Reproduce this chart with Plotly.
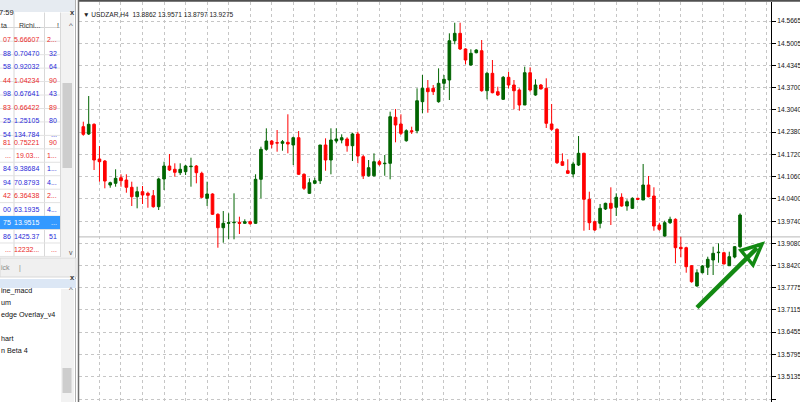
import plotly.graph_objects as go

W, H = 800, 402

# ---------------- data (USDZAR, H4) ----------------
opens = [14.2537, 14.2321, 14.2608, 14.1581, 14.1521, 14.0811, 14.0861, 14.1027, 14.0959, 14.0743,
         14.0465, 14.0613, 14.0565, 14.0494, 14.0169, 14.0989, 14.1373, 14.1276, 14.1175, 14.1205,
         14.1353, 14.1373, 14.1157, 14.0417, 14.0545, 13.9944, 13.9547, 13.9677, 13.9695, 13.9707,
         13.9677, 13.9725, 13.9677, 14.0980, 14.1868, 14.2113, 14.2063, 14.2045, 14.2075, 14.1995,
         14.2211, 14.1128, 14.0565, 14.0861, 14.0938, 14.1995, 14.1551, 14.2113, 14.2143, 14.2173,
         14.1974, 14.2321, 14.1649, 14.1086, 14.1086, 14.1501, 14.1441, 14.1453, 14.2815, 14.2617,
         14.2122, 14.2418, 14.2418, 14.3277, 14.3673, 14.3673, 14.3277, 14.3821, 14.3919, 14.5082,
         14.5301, 14.4837, 14.4363, 14.4727, 14.4786, 14.3602, 14.4117, 14.3573, 14.3348, 14.3999,
         14.3771, 14.3623, 14.3179, 14.4135, 14.3475, 14.3771, 14.3673, 14.2617, 14.2460, 14.1501,
         14.1234, 14.1137, 14.1403, 14.1749, 14.0388, 13.9725, 13.9677, 14.0101, 14.0269, 14.0151,
         14.0447, 14.0189, 14.0121, 14.0417, 14.0367, 14.0811, 14.0485, 13.9627, 13.9301, 13.9695,
         13.9796, 13.8967, 13.8955, 13.8422, 13.7821, 13.8215, 13.8375, 13.8591, 13.8807, 13.8807,
         13.8422, 13.8680, 13.8985]
highs = [14.2685, 14.3445, 14.2637, 14.1965, 14.1551, 14.0909, 14.1276, 14.1128, 14.1128, 14.0909,
         14.0761, 14.0781, 14.0613, 14.0663, 14.1027, 14.1501, 14.1729, 14.1453, 14.1453, 14.1403,
         14.1619, 14.1403, 14.1205, 14.0909, 14.0565, 13.9973, 14.0041, 13.9973, 14.0565, 13.9873,
         13.9796, 13.9754, 14.1128, 14.1945, 14.2489, 14.2143, 14.2439, 14.2143, 14.2904, 14.2241,
         14.2409, 14.1157, 14.1009, 14.1027, 14.1995, 14.2193, 14.2489, 14.2489, 14.2312, 14.2223,
         14.2359, 14.2389, 14.1699, 14.1551, 14.1749, 14.1551, 14.1699, 14.2981, 14.3061, 14.2904,
         14.2460, 14.2537, 14.3673, 14.4067, 14.3919, 14.3771, 14.4265, 14.4067, 14.5301, 14.5615,
         14.5615, 14.4857, 14.4828, 14.4828, 14.5103, 14.4165, 14.4511, 14.3721, 14.4037, 14.4165,
         14.3919, 14.3673, 14.4313, 14.4295, 14.3940, 14.3801, 14.3969, 14.3209, 14.2489, 14.1749,
         14.1572, 14.1501, 14.2261, 14.1767, 14.0613, 13.9754, 14.0249, 14.0287, 14.0743, 14.0565,
         14.0565, 14.0388, 14.0447, 14.0435, 14.1433, 14.1077, 14.0743, 13.9695, 13.9754, 13.9873,
         13.9825, 13.9281, 13.8985, 13.8443, 13.8316, 13.8443, 13.8689, 13.8985, 13.9085, 13.8837,
         13.8837, 13.9005, 13.9973]
lows = [14.2270, 14.2291, 14.1255, 14.0909, 14.0713, 14.0731, 14.0761, 14.0761, 14.0583, 14.0189,
        14.0121, 14.0249, 14.0139, 14.0139, 14.0071, 14.0663, 14.1225, 14.1057, 14.1107, 14.1107,
        14.0761, 14.0861, 14.0417, 14.0189, 13.9923, 13.8955, 13.9103, 13.9204, 13.9204, 13.9361,
        13.9657, 13.9636, 13.9657, 14.0417, 14.1826, 14.1897, 14.1797, 14.1826, 14.1749, 14.1403,
        14.1107, 14.0663, 14.0545, 14.0841, 14.0841, 14.1234, 14.1128, 14.2045, 14.2045, 14.1797,
        14.1521, 14.1453, 14.0989, 14.1057, 14.1057, 14.1382, 14.1086, 14.0980, 14.2075, 14.2291,
        14.2093, 14.2321, 14.2341, 14.2933, 14.2951, 14.3475, 14.3247, 14.3623, 14.3327, 14.4976,
        14.4807, 14.4384, 14.4342, 14.4709, 14.3573, 14.3348, 14.3525, 14.3445, 14.3327, 14.3673,
        14.3052, 14.3010, 14.3179, 14.3573, 14.3454, 14.3644, 14.2498, 14.2418, 14.1433, 14.1373,
        14.1137, 14.1039, 14.1373, 13.9458, 13.9479, 13.9458, 13.9529, 14.0071, 13.9627, 13.9893,
        14.0169, 14.0050, 14.0101, 14.0367, 14.0367, 14.0447, 13.9458, 13.9458, 13.9281, 13.9657,
        13.8493, 13.8671, 13.8215, 13.7919, 13.7801, 13.8197, 13.8147, 13.8147, 13.8511, 13.8464,
        13.8413, 13.8641, 13.8937]
closes = [14.2312, 14.2608, 14.1551, 14.1501, 14.0929, 14.0879, 14.1009, 14.0938, 14.0743, 14.0465,
          14.0613, 14.0515, 14.0506, 14.0169, 14.0989, 14.1373, 14.1255, 14.1187, 14.1276, 14.1373,
          14.1365, 14.1175, 14.0447, 14.0545, 13.9944, 13.9547, 13.9677, 13.9695, 13.9707, 13.9677,
          13.9725, 13.9666, 14.0980, 14.1868, 14.2113, 14.2016, 14.2054, 14.2093, 14.2025, 14.2211,
          14.1128, 14.0713, 14.0879, 14.0938, 14.1995, 14.1551, 14.2143, 14.2173, 14.2211, 14.1974,
          14.2321, 14.1669, 14.1086, 14.1323, 14.1501, 14.1424, 14.1453, 14.2833, 14.2587, 14.2341,
          14.2418, 14.2389, 14.3306, 14.3673, 14.3573, 14.3573, 14.3821, 14.3940, 14.5082, 14.5301,
          14.4837, 14.4511, 14.4709, 14.4807, 14.3602, 14.4117, 14.3543, 14.3475, 14.3999, 14.3771,
          14.3602, 14.3179, 14.4135, 14.3623, 14.3771, 14.3653, 14.2637, 14.2460, 14.1471, 14.1394,
          14.1157, 14.1433, 14.1749, 14.0388, 13.9695, 13.9479, 14.0121, 14.0269, 14.0121, 14.0447,
          14.0189, 14.0317, 14.0417, 14.0388, 14.0811, 14.0465, 13.9597, 13.9500, 13.9695, 13.9796,
          13.8955, 13.8926, 13.8393, 13.7949, 13.8215, 13.8413, 13.8612, 13.8789, 13.8819, 13.8473,
          13.8689, 13.8985, 13.9923]
bars = list(range(len(opens)))

price_ticks = [14.5665, 14.5005, 14.4345, 14.3700, 14.3040, 14.2380, 14.1720, 14.1060, 14.0400,
               13.9740, 13.9080, 13.8420, 13.7775, 13.7115, 13.6455, 13.5795, 13.5135, 13.4475]
price_labels = [f"{v:.4f}" for v in price_ticks]
bid_price = 13.9275
header_text = "\u25BC USDZAR,H4  13.8862 13.9571 13.8797 13.9275"

# Market Watch panel (cut off on the left)
mw_col1 = ["07", "88", "58", "44", "98", "83", "25", "54", "81", "...", "84", "94", "42", "00", "75", "86", "..."]
mw_col2 = ["5.66607", "0.70470", "0.92032", "1.04234", "0.67641", "0.66422", "1.25105", "134.784", "0.75221",
           "19.03...", "9.38684", "70.8793", "6.36438", "63.1935", "13.9515", "1425.37", "12232..."]
mw_col3 = ["2...", "32", "64", "90", "43", "89", "80", "...", "90", "1...", "1...", "4...", "2...", "4...", "...", "51", "..."]
mw_state = ["dn", "up", "up", "dn", "up", "dn", "up", "up", "dn", "dn", "up", "up", "dn", "up", "sel", "up", "dn"]
nav_items = ["ine_macd", "um", "edge Overlay_v4", "", "hart", "n Beta 4"]


def P(x):
    return x / W


def Q(y):
    return 1 - y / H


FONT = "Liberation Sans"
UP_C, DN_C = "#2a2ad8", "#ea2a2a"

fig = go.Figure()
fig.add_trace(go.Candlestick(
    x=bars, open=opens, high=highs, low=lows, close=closes,
    increasing=dict(line=dict(color="#006400", width=1), fillcolor="#006400"),
    decreasing=dict(line=dict(color="#ff0000", width=1), fillcolor="#ff0000"),
    whiskerwidth=0, hoverinfo="skip", showlegend=False))

shapes = []
annotations = []

# bid line
shapes.append(dict(type="line", xref="paper", yref="y", x0=P(79), x1=1.0, y0=bid_price, y1=bid_price,
                   line=dict(color="#b8b8b8", width=1), layer="below"))
# chart borders
shapes.append(dict(type="line", xref="paper", yref="paper", x0=P(78), x1=1, y0=Q(0.8), y1=Q(0.8),
                   line=dict(color="#505050", width=2)))
shapes.append(dict(type="line", xref="paper", yref="paper", x0=P(78.5), x1=P(78.5), y0=0, y1=1,
                   line=dict(color="#707070", width=1.5)))

# ---- left panel ----
shapes.append(dict(type="rect", xref="paper", yref="paper", x0=0, x1=P(77.5), y0=0, y1=1,
                   fillcolor="white", line=dict(width=0), layer="below"))
# title bar
shapes.append(dict(type="rect", xref="paper", yref="paper", x0=0, x1=P(76), y0=Q(12), y1=1,
                   fillcolor="#e6ebf1", line=dict(width=0)))
annotations.append(dict(x=P(-3), y=Q(5.5), xref="paper", yref="paper", text="7:59", showarrow=False,
                        xanchor="left", font=dict(size=7.5, family=FONT, color="#222")))
annotations.append(dict(x=P(68), y=Q(5.5), xref="paper", yref="paper", text="<b>x</b>", showarrow=False,
                        font=dict(size=7.5, family=FONT, color="#333")))
# header
shapes.append(dict(type="line", xref="paper", yref="paper", x0=0, x1=P(60), y0=Q(27.5), y1=Q(27.5),
                   line=dict(color="#d4d4d4", width=1)))
annotations.append(dict(x=P(-1), y=Q(20), xref="paper", yref="paper", text="ta", showarrow=False,
                        xanchor="left", font=dict(size=7, family=FONT, color="#333")))
annotations.append(dict(x=P(17), y=Q(20), xref="paper", yref="paper", text="Richi...", showarrow=False,
                        xanchor="left", font=dict(size=7, family=FONT, color="#333")))
annotations.append(dict(x=P(54.5), y=Q(20), xref="paper", yref="paper", text="!", showarrow=False,
                        font=dict(size=7, family=FONT, color="#333")))
# column separators
for cx in (14, 44.5, 60.5):
    shapes.append(dict(type="line", xref="paper", yref="paper", x0=P(cx), x1=P(cx), y0=Q(257), y1=Q(12.5),
                       line=dict(color="#d8d8d8", width=1)))
# scrollbar
shapes.append(dict(type="rect", xref="paper", yref="paper", x0=P(61), x1=P(74), y0=Q(257), y1=Q(12.5),
                   fillcolor="#f2f2f2", line=dict(width=0)))
shapes.append(dict(type="rect", xref="paper", yref="paper", x0=P(62.5), x1=P(72), y0=Q(168), y1=Q(83),
                   fillcolor="#cdcdcd", line=dict(width=0)))
annotations.append(dict(x=P(67), y=Q(19), xref="paper", yref="paper", text="^", showarrow=False,
                        font=dict(size=8, family=FONT, color="#555")))
annotations.append(dict(x=P(67), y=Q(252), xref="paper", yref="paper", text="v", showarrow=False,
                        font=dict(size=7, family=FONT, color="#555")))
shapes.append(dict(type="line", xref="paper", yref="paper", x0=P(75.5), x1=P(75.5), y0=0, y1=1,
                   line=dict(color="#b0b0b0", width=1)))

row0, rh = 34.5, 13.45
for i, (a, b, c, s) in enumerate(zip(mw_col1, mw_col2, mw_col3, mw_state)):
    yc = row0 + i * rh
    col = UP_C if s == "up" else DN_C
    if s == "sel":
        col = "white"
        shapes.append(dict(type="rect", xref="paper", yref="paper", x0=0, x1=P(60), y0=Q(yc + rh / 2),
                           y1=Q(yc - rh / 2), fillcolor="#3399ff", line=dict(width=0)))
    shapes.append(dict(type="line", xref="paper", yref="paper", x0=0, x1=P(60), y0=Q(yc + rh / 2),
                       y1=Q(yc + rh / 2), line=dict(color="#e2e2e2", width=1)))
    for txt, xr in ((a, 12.5), (b, 40.5), (c, 58.5)):
        annotations.append(dict(x=P(xr), y=Q(yc), xref="paper", yref="paper", text=txt, showarrow=False,
                                xanchor="right", font=dict(size=7, family=FONT, color=col)))

# tab strip
shapes.append(dict(type="rect", xref="paper", yref="paper", x0=0, x1=P(76), y0=Q(277), y1=Q(258),
                   fillcolor="#f0f0f0", line=dict(color="#d8d8d8", width=1)))
annotations.append(dict(x=P(-1), y=Q(267.5), xref="paper", yref="paper", text="ick", showarrow=False,
                        xanchor="left", font=dict(size=7, family=FONT, color="#888")))
annotations.append(dict(x=P(17), y=Q(267.5), xref="paper", yref="paper", text="|", showarrow=False,
                        font=dict(size=7, family=FONT, color="#888")))
# navigator
shapes.append(dict(type="rect", xref="paper", yref="paper", x0=0, x1=P(76), y0=Q(288), y1=Q(279),
                   fillcolor="#dce7f5", line=dict(width=0)))
annotations.append(dict(x=P(68), y=Q(283.5), xref="paper", yref="paper", text="<b>x</b>", showarrow=False,
                        font=dict(size=7.5, family=FONT, color="#333")))
shapes.append(dict(type="rect", xref="paper", yref="paper", x0=P(61), x1=P(74), y0=0, y1=Q(289),
                   fillcolor="#f2f2f2", line=dict(width=0)))
shapes.append(dict(type="rect", xref="paper", yref="paper", x0=P(62.5), x1=P(71.5), y0=Q(393), y1=Q(368),
                   fillcolor="#cdcdcd", line=dict(width=0)))
annotations.append(dict(x=P(67), y=Q(296), xref="paper", yref="paper", text="^", showarrow=False,
                        font=dict(size=8, family=FONT, color="#555")))
for i, t in enumerate(nav_items):
    if not t:
        continue
    annotations.append(dict(x=P(-1), y=Q(296.7 + i * 12.1), xref="paper", yref="paper", text=t,
                            showarrow=False, xanchor="left", font=dict(size=7.2, family=FONT, color="#111")))

# chart header
annotations.append(dict(x=P(81), y=Q(8.5), xref="paper", yref="paper", text=header_text, showarrow=False,
                        xanchor="left", font=dict(size=6.6, family=FONT, color="#222")))

# hand-drawn green arrow
GA = "#138a13"
shapes.append(dict(type="line", xref="paper", yref="paper", x0=P(697), y0=Q(307.5), x1=P(757), y1=Q(248),
                   line=dict(color=GA, width=4.5)))
shapes.append(dict(type="path", xref="paper", yref="paper",
                   path=f"M {P(741)},{Q(250.5)} L {P(762)},{Q(244)} L {P(753)},{Q(265)} Z",
                   line=dict(color=GA, width=3.5)))

fig.update_layout(
    width=W, height=H, margin=dict(l=0, r=0, t=0, b=0, autoexpand=False),
    paper_bgcolor="white", plot_bgcolor="white", showlegend=False,
    shapes=shapes, annotations=annotations,
    xaxis=dict(domain=[79 / W, 771 / W], range=[-0.8, 127.75], rangeslider=dict(visible=False),
               showticklabels=False, tickvals=list(range(3, 128, 4)), showgrid=True, automargin=False,
               gridcolor="#c6c6c6", griddash="dot", gridwidth=1, zeroline=False, showline=False, ticks=""),
    yaxis=dict(domain=[0, 1 - 2 / H], range=[13.4388, 14.6228], side="right", automargin=False,
               tickvals=price_ticks, ticktext=price_labels, showgrid=True, gridcolor="#c6c6c6",
               griddash="dot", gridwidth=1, showline=True, linecolor="#000", linewidth=1,
               ticks="outside", ticklen=4, tickcolor="#000",
               tickfont=dict(size=6.6, family=FONT, color="#111"), zeroline=False),
)

fig.write_html("out.html", config={"displayModeBar": False},
               post_script="document.body.style.margin='0';document.body.style.padding='0';"
                           "document.body.style.overflow='hidden';")
